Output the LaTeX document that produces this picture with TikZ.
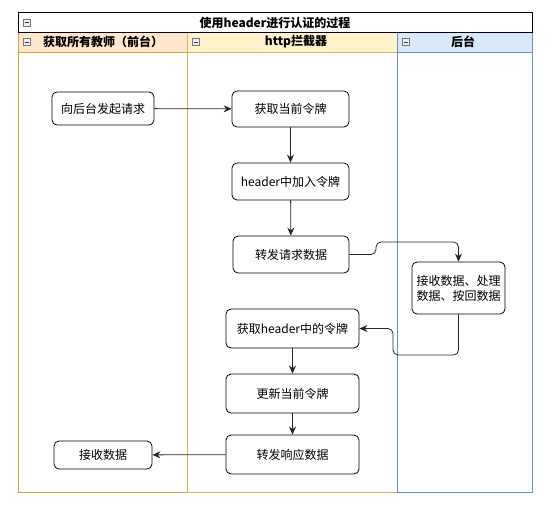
\documentclass[tikz,border=0pt]{standalone}
\usepackage{fontspec}
\setmainfont{Noto Sans CJK SC}
\usetikzlibrary{arrows.meta}
\definecolor{orgfill}{HTML}{FFE6CC}
\definecolor{orgline}{HTML}{D4A535}
\definecolor{yelfill}{HTML}{FFF2CC}
\definecolor{yelline}{HTML}{D6B656}
\definecolor{blufill}{HTML}{DAE8FC}
\definecolor{bluline}{HTML}{6C8EBF}
\definecolor{iconline}{HTML}{777777}
\definecolor{iconfill}{HTML}{EEEEEE}
\tikzset{
  stepbox/.style={draw=black, line width=0.8pt, rounded corners=5pt, fill=white,
    align=center, inner sep=0pt, font=\fontsize{12}{15}\selectfont},
  flow/.style={draw=black!85, line width=0.8pt, rounded corners=5pt,
    -{Stealth[length=8pt,width=7pt]}},
  lanehead/.style={font=\fontsize{12}{14}\selectfont\bfseries, inner sep=0pt},
  lanebody/.style={line width=0.8pt},
  minusicon/.style={draw=iconline, fill=iconfill, line width=0.5pt}
}
\newcommand{\minusbox}[2]{%
  \filldraw[minusicon] (#1-3.5,#2-3.5) rectangle (#1+3.5,#2+3.5);
  \draw[black!80, line width=0.9pt] (#1-2,#2) -- (#1+2,#2);}
\begin{document}
\begin{tikzpicture}[x=1pt,y=-1pt]
\useasboundingbox (0,0) rectangle (552,507);
% lane bodies
\draw[lanebody, draw=orgline] (18,52) rectangle (187,492);
\draw[lanebody, draw=yelline] (187,52) rectangle (397,492);
\draw[lanebody, draw=bluline] (397,52) rectangle (532,492);
% lane headers
\filldraw[lanebody, fill=orgfill, draw=orgline] (18,32) rectangle (187,52);
\filldraw[lanebody, fill=yelfill, draw=yelline] (187,32) rectangle (397,52);
\filldraw[lanebody, fill=blufill, draw=bluline] (397,32) rectangle (532,52);
% title
\filldraw[line width=0.8pt, fill=white, draw=black] (18,12.5) rectangle (532,32);
\node[lanehead] (title) at (275,22.5) {使用header进行认证的过程};
\node[lanehead] (h1) at (103,42) {获取所有教师（前台）};
\node[lanehead] (h2) at (296,42) {http拦截器};
\node[lanehead] (h3) at (463,42) {后台};
\minusbox{26.5}{22.5}
\minusbox{26.5}{42}
\minusbox{196}{42}
\minusbox{406}{42}
% nodes
\node[stepbox, minimum width=102pt, minimum height=33pt] (req) at (103,108.5) {向后台发起请求};
\node[stepbox, minimum width=117pt, minimum height=36pt] (cur) at (290.5,109) {获取当前令牌};
\node[stepbox, minimum width=117pt, minimum height=37pt] (add) at (290.5,181.5) {header中加入令牌};
\node[stepbox, minimum width=116pt, minimum height=37pt] (fwd) at (291,254.5) {转发请求数据};
\node[stepbox, minimum width=93pt, minimum height=52pt] (proc) at (458.5,288) {接收数据、处理\\数据、按回数据};
\node[stepbox, minimum width=133pt, minimum height=39pt] (geth) at (292.5,328.5) {获取header中的令牌};
\node[stepbox, minimum width=133pt, minimum height=39pt] (upd) at (292.5,393.5) {更新当前令牌};
\node[stepbox, minimum width=133pt, minimum height=39pt] (resp) at (292.5,454.5) {转发响应数据};
\node[stepbox, minimum width=98pt, minimum height=28pt] (recv) at (103,455) {接收数据};
% helper coordinates
\coordinate (a1) at (376,254.5);
\coordinate (a2) at (376,242);
\coordinate (a3) at (458.5,242);
\coordinate (b1) at (458.5,355);
\coordinate (b2) at (393,355);
\coordinate (b3) at (393,328.5);
% connectors
\draw[flow] (req) -- (cur);
\draw[flow] (cur) -- (add);
\draw[flow] (add) -- (fwd);
\draw[flow] (fwd.east) -- (a1) -- (a2) -- (a3) -- (proc.north);
\draw[flow] (proc.south) -- (b1) -- (b2) -- (b3) -- (geth.east);
\draw[flow] (geth) -- (upd);
\draw[flow] (upd) -- (resp);
\draw[flow] (resp) -- (recv);
\end{tikzpicture}
\end{document}
